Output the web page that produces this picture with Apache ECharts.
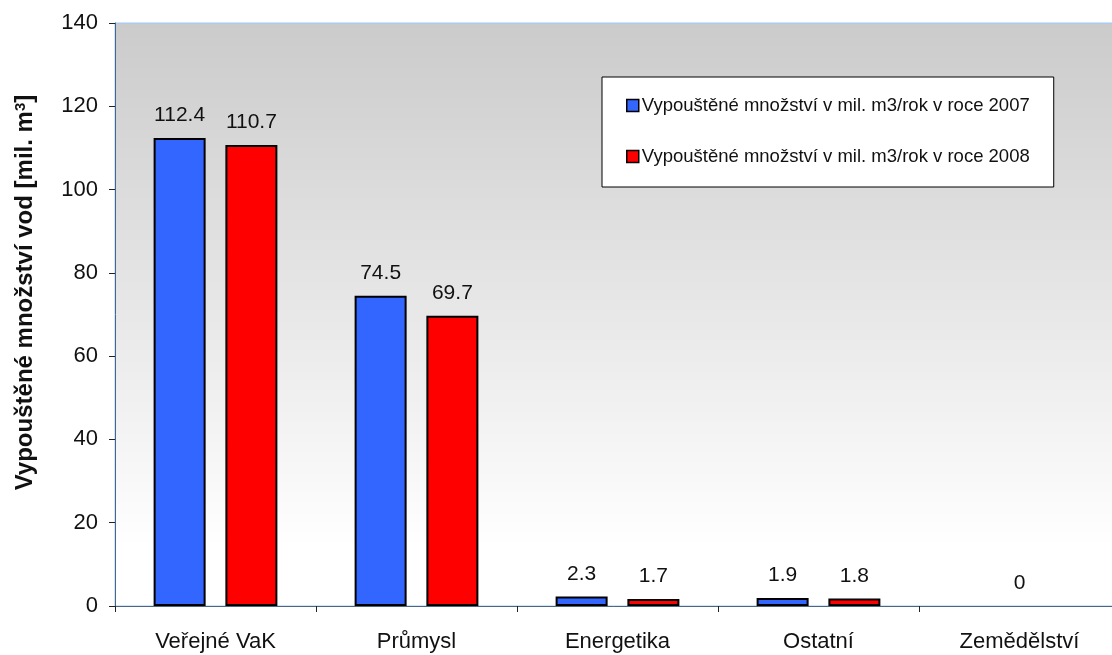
<!DOCTYPE html>
<html>
<head>
<meta charset="utf-8">
<script src="https://cdn.jsdelivr.net/npm/echarts@6/dist/echarts.min.js"></script>
<style>
  html, body { margin: 0; padding: 0; background: #fff; }
  #chart { width: 1112px; height: 655px; }
</style>
</head>
<body>
<div id="chart"></div>
<script>
// kategorie a hodnoty
const categories = ['Veřejné VaK', 'Průmysl', 'Energetika', 'Ostatní', 'Zemědělství'];
const values2007 = [112.4, 74.5, 2.3, 1.9, 0];
const values2008 = [110.7, 69.7, 1.7, 1.8, null];
const yTicks = { min: 0, max: 140, interval: 20 };
const seriesNames = [
    'Vypouštěné množství v mil. m3/rok v roce 2007',
    'Vypouštěné množství v mil. m3/rok v roce 2008'
];

const chart = echarts.init(document.getElementById('chart'), null, { renderer: 'canvas' });
const font = 'Arial, "Liberation Sans", sans-serif';

const labelStyle = {
    show: true,
    position: 'top',
    distance: 12,
    fontFamily: font,
    fontSize: 21,
    color: '#111'
};

// nulová hodnota: bez obrysu, popisek uprostřed kategorie
const toItems = (arr) => arr.map(v => v === 0
    ? { value: v, itemStyle: { borderWidth: 0 }, label: { offset: [36, 0] } }
    : v);

chart.setOption({
    animation: false,
    backgroundColor: '#fff',
    grid: {
        left: 115, top: 23, right: -8, bottom: 49,
        outerBoundsMode: 'none',
        show: true,
        borderWidth: 1,
        borderColor: '#99ccff',
        backgroundColor: {
            type: 'linear', x: 0, y: 0, x2: 0, y2: 1,
            colorStops: [
                { offset: 0, color: '#cbcbcb' },
                { offset: 0.9, color: '#ffffff' },
                { offset: 1, color: '#ffffff' }
            ]
        }
    },
    legend: {
        orient: 'vertical',
        left: 602, top: 77,
        padding: [19, 24, 21, 24],
        itemGap: 32,
        itemWidth: 12, itemHeight: 12,
        backgroundColor: '#fff',
        borderColor: '#000', borderWidth: 1,
        icon: 'rect',
        itemStyle: { borderColor: '#000', borderWidth: 1.5 },
        textStyle: { fontFamily: font, fontSize: 18.5, color: '#111', padding: [0, 0, 0, -2] },
        data: seriesNames
    },
    xAxis: {
        type: 'category',
        data: categories,
        axisLine: { lineStyle: { color: '#4d6580', width: 1 } },
        axisTick: { show: true, length: 6, lineStyle: { color: '#222' } },
        axisLabel: { margin: 25, fontFamily: font, fontSize: 22, color: '#111' }
    },
    yAxis: {
        type: 'value',
        min: yTicks.min, max: yTicks.max, interval: yTicks.interval,
        name: '{t|Vypouštěné množství vod [mil. m}{s|3}{t|]}',
        nameLocation: 'middle',
        nameGap: 78,
        nameRotate: 90,
        nameTextStyle: {
            padding: [0, 0, 0, 44],
            rich: {
                t: { fontFamily: font, fontSize: 24, fontWeight: 'bold', color: '#111' },
                s: { fontFamily: font, fontSize: 15, fontWeight: 'bold', color: '#111', verticalAlign: 'top', padding: [0, 0, 8, 0] }
            }
        },
        axisLine: { show: true, lineStyle: { color: '#4d6580', width: 1 } },
        axisTick: { show: true, length: 6, lineStyle: { color: '#222' } },
        axisLabel: { margin: 17, fontFamily: font, fontSize: 22, color: '#111' },
        splitLine: { show: false }
    },
    series: [
        {
            name: seriesNames[0],
            type: 'bar',
            data: toItems(values2007),
            barWidth: 52,
            barGap: '38%',
            itemStyle: { color: '#3366ff', borderColor: '#000', borderWidth: 2 },
            label: labelStyle
        },
        {
            name: seriesNames[1],
            type: 'bar',
            data: toItems(values2008),
            barWidth: 52,
            itemStyle: { color: '#ff0000', borderColor: '#000', borderWidth: 2 },
            label: labelStyle
        }
    ]
});
</script>
</body>
</html>
